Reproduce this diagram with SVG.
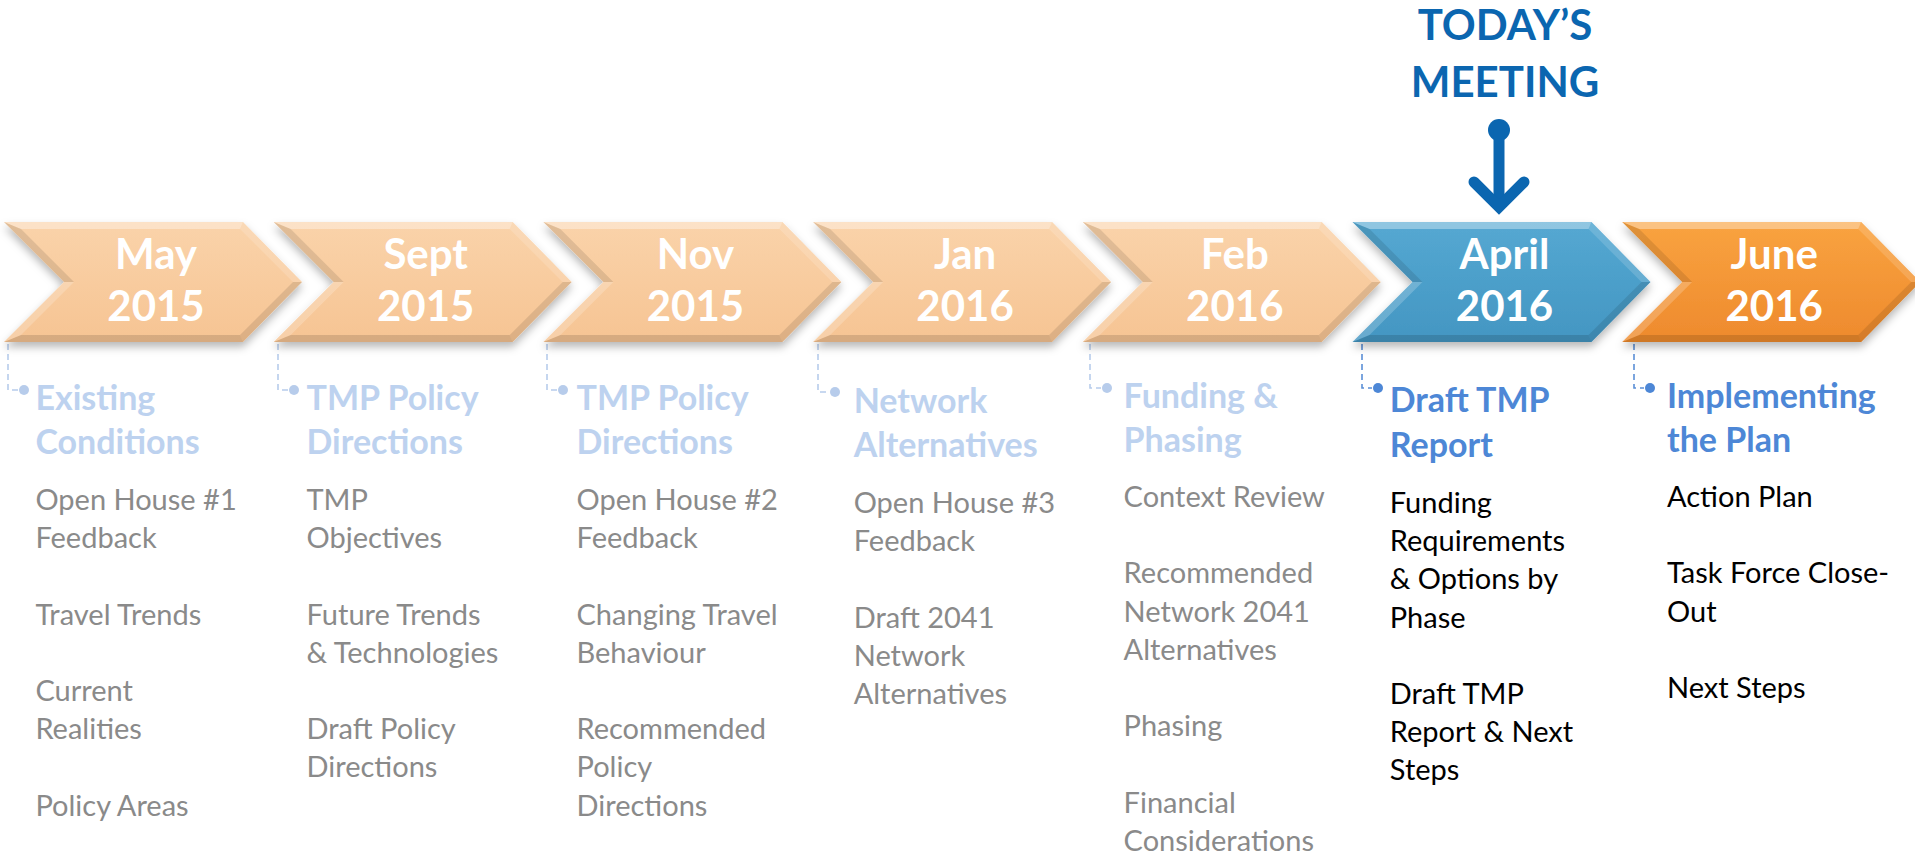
<svg xmlns="http://www.w3.org/2000/svg" xmlns:xlink="http://www.w3.org/1999/xlink" width="1915" height="860" viewBox="0 0 1915 860">
<style>
.cv{font-family:Lato,"Open Sans","Liberation Sans",sans-serif;font-weight:700;font-size:42px;fill:#fff;text-anchor:middle}
.tt{font-family:Lato,"Open Sans","Liberation Sans",sans-serif;font-weight:700;font-size:34px}
.bd{font-family:Lato,"Open Sans","Liberation Sans",sans-serif;font-weight:400;font-size:29px}
.fade .tt{fill:#bdd2ef}
.fade .bd{fill:#8a8a8a}
.act .tt{fill:#4d87d6}
.act .bd{fill:#000}
.cf{fill:none;stroke:#b7cceb;stroke-width:1.6;stroke-dasharray:6 4}
.ca{fill:none;stroke:#5b8fd6;stroke-width:1.6;stroke-dasharray:6 4}
.today{font-family:Lato,"Open Sans","Liberation Sans",sans-serif;font-weight:700;font-size:42px;fill:#0b66b0;text-anchor:middle}
</style>
<defs>
<linearGradient id="peach" x1="0" y1="0" x2="0" y2="1">
<stop offset="0" stop-color="#fad3aa"/><stop offset="1" stop-color="#f6c493"/>
</linearGradient>
<linearGradient id="blue" x1="0" y1="0" x2="0" y2="1">
<stop offset="0" stop-color="#55a8d2"/><stop offset="1" stop-color="#4396c2"/>
</linearGradient>
<linearGradient id="orange" x1="0" y1="0" x2="0" y2="1">
<stop offset="0" stop-color="#f9a340"/><stop offset="1" stop-color="#ee8a2d"/>
</linearGradient>
<filter id="sh" x="-10%" y="-20%" width="120%" height="150%">
<feDropShadow dx="0" dy="5" stdDeviation="4" flood-color="#000" flood-opacity="0.28"/>
</filter>
<g id="chev">
<polygon points="0,222 239,222 298,282 239,342 0,342 60,282"/>
<polygon points="0,222 239,222 236,229 17,229" fill="#fff" fill-opacity="0.35"/>
<polygon points="239,222 298,282 289,282 236,229" fill="#fff" fill-opacity="0.15"/>
<polygon points="298,282 239,342 236,335 289,282" fill="#000" fill-opacity="0.1"/>
<polygon points="239,342 0,342 17,335 236,335" fill="#000" fill-opacity="0.13"/>
<polygon points="0,222 17,229 70,282 60,282" fill="#000" fill-opacity="0.1"/>
<polygon points="60,282 70,282 17,335 0,342" fill="#fff" fill-opacity="0.2"/>
</g>
</defs>
<rect width="1915" height="860" fill="#fff"/>

<g id="today">
<text class="today" x="1505" y="40">TODAY’S</text>
<text class="today" x="1505" y="97">MEETING</text>
<circle cx="1499" cy="130" r="11" fill="#0b66b0"/>
<line x1="1499" y1="130" x2="1499" y2="204" stroke="#0b66b0" stroke-width="11"/>
<path d="M1474,182 L1499,207 L1524,182" fill="none" stroke="#0b66b0" stroke-width="11" stroke-linecap="round" stroke-linejoin="miter"/>
</g>

<g id="connectors">
<path class="cf" d="M8,344 V390 H18"/>
<circle cx="24" cy="390" r="5" fill="#b7cceb"/>
<path class="cf" d="M278,344 V390 H288"/>
<circle cx="294" cy="390" r="5" fill="#b7cceb"/>
<path class="cf" d="M547,344 V390 H557"/>
<circle cx="563" cy="390" r="5" fill="#b7cceb"/>
<path class="cf" d="M818,344 V392 H829"/>
<circle cx="835" cy="392" r="5" fill="#b7cceb"/>
<path class="cf" d="M1090,344 V388 H1101"/>
<circle cx="1107" cy="388" r="5" fill="#b7cceb"/>
<path class="ca" d="M1362,344 V388 H1372"/>
<circle cx="1378" cy="388" r="5" fill="#4d87d6"/>
<path class="ca" d="M1634,344 V388 H1644"/>
<circle cx="1650" cy="388" r="5" fill="#4d87d6"/>
</g>

<g id="node-may" class="fade">
<use href="#chev" xlink:href="#chev" x="4" fill="url(#peach)" filter="url(#sh)"/>
<text class="cv" x="156" y="269">May</text>
<text class="cv" x="156" y="321">2015</text>
<text class="tt" x="35.4" y="410">Existing</text>
<text class="tt" x="35.4" y="454">Conditions</text>
<text class="bd" x="35.4" y="510">Open House #1</text>
<text class="bd" x="35.4" y="548.2">Feedback</text>
<text class="bd" x="35.4" y="624.6">Travel Trends</text>
<text class="bd" x="35.4" y="701">Current</text>
<text class="bd" x="35.4" y="739.2">Realities</text>
<text class="bd" x="35.4" y="815.6">Policy Areas</text>
</g>

<g id="node-sept" class="fade">
<use href="#chev" xlink:href="#chev" x="273.7" fill="url(#peach)" filter="url(#sh)"/>
<text class="cv" x="425.7" y="269">Sept</text>
<text class="cv" x="425.7" y="321">2015</text>
<text class="tt" x="306.5" y="410">TMP Policy</text>
<text class="tt" x="306.5" y="454">Directions</text>
<text class="bd" x="306.5" y="510">TMP</text>
<text class="bd" x="306.5" y="548.2">Objectives</text>
<text class="bd" x="306.5" y="624.6">Future Trends</text>
<text class="bd" x="306.5" y="662.8">&amp; Technologies</text>
<text class="bd" x="306.5" y="739.2">Draft Policy</text>
<text class="bd" x="306.5" y="777.4">Directions</text>
</g>

<g id="node-nov" class="fade">
<use href="#chev" xlink:href="#chev" x="543.4" fill="url(#peach)" filter="url(#sh)"/>
<text class="cv" x="695.4" y="269">Nov</text>
<text class="cv" x="695.4" y="321">2015</text>
<text class="tt" x="576.5" y="410">TMP Policy</text>
<text class="tt" x="576.5" y="454">Directions</text>
<text class="bd" x="576.5" y="510">Open House #2</text>
<text class="bd" x="576.5" y="548.2">Feedback</text>
<text class="bd" x="576.5" y="624.6">Changing Travel</text>
<text class="bd" x="576.5" y="662.8">Behaviour</text>
<text class="bd" x="576.5" y="739.2">Recommended</text>
<text class="bd" x="576.5" y="777.4">Policy</text>
<text class="bd" x="576.5" y="815.6">Directions</text>
</g>

<g id="node-jan" class="fade">
<use href="#chev" xlink:href="#chev" x="813.1" fill="url(#peach)" filter="url(#sh)"/>
<text class="cv" x="965.1" y="269">Jan</text>
<text class="cv" x="965.1" y="321">2016</text>
<text class="tt" x="853.7" y="413">Network</text>
<text class="tt" x="853.7" y="457">Alternatives</text>
<text class="bd" x="853.7" y="513">Open House #3</text>
<text class="bd" x="853.7" y="551.2">Feedback</text>
<text class="bd" x="853.7" y="627.6">Draft 2041</text>
<text class="bd" x="853.7" y="665.8">Network</text>
<text class="bd" x="853.7" y="704">Alternatives</text>
</g>

<g id="node-feb" class="fade">
<use href="#chev" xlink:href="#chev" x="1082.8" fill="url(#peach)" filter="url(#sh)"/>
<text class="cv" x="1234.8" y="269">Feb</text>
<text class="cv" x="1234.8" y="321">2016</text>
<text class="tt" x="1123.6" y="408">Funding &amp;</text>
<text class="tt" x="1123.6" y="452">Phasing</text>
<text class="bd" x="1123.6" y="507">Context Review</text>
<text class="bd" x="1123.6" y="583.4">Recommended</text>
<text class="bd" x="1123.6" y="621.6">Network 2041</text>
<text class="bd" x="1123.6" y="659.8">Alternatives</text>
<text class="bd" x="1123.6" y="736.2">Phasing</text>
<text class="bd" x="1123.6" y="812.6">Financial</text>
<text class="bd" x="1123.6" y="850.8">Considerations</text>
</g>

<g id="node-april" class="act">
<use href="#chev" xlink:href="#chev" x="1352.5" fill="url(#blue)" filter="url(#sh)"/>
<text class="cv" x="1504.5" y="269">April</text>
<text class="cv" x="1504.5" y="321">2016</text>
<text class="tt" x="1389.8" y="412">Draft TMP</text>
<text class="tt" x="1389.8" y="457">Report</text>
<text class="bd" x="1389.8" y="513">Funding</text>
<text class="bd" x="1389.8" y="551.2">Requirements</text>
<text class="bd" x="1389.8" y="589.4">&amp; Options by</text>
<text class="bd" x="1389.8" y="627.6">Phase</text>
<text class="bd" x="1389.8" y="704">Draft TMP</text>
<text class="bd" x="1389.8" y="742.2">Report &amp; Next</text>
<text class="bd" x="1389.8" y="780.4">Steps</text>
</g>

<g id="node-june" class="act">
<use href="#chev" xlink:href="#chev" x="1622.2" fill="url(#orange)" filter="url(#sh)"/>
<text class="cv" x="1774.2" y="269">June</text>
<text class="cv" x="1774.2" y="321">2016</text>
<text class="tt" x="1667" y="408">Implementing</text>
<text class="tt" x="1667" y="452">the Plan</text>
<text class="bd" x="1667" y="507">Action Plan</text>
<text class="bd" x="1667" y="583.4">Task Force Close-</text>
<text class="bd" x="1667" y="621.6">Out</text>
<text class="bd" x="1667" y="698">Next Steps</text>
</g>
</svg>
